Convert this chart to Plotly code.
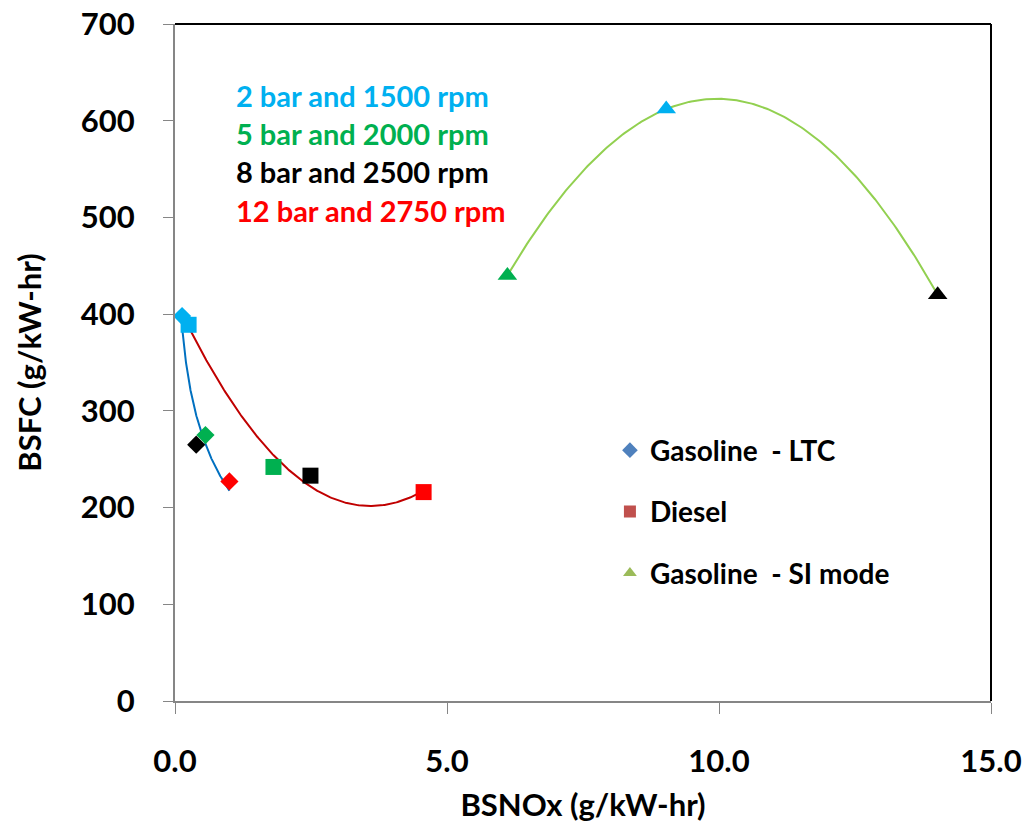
import numpy as np
import plotly.graph_objects as go

# Operating points: 2 bar/1500 rpm, 5 bar/2000 rpm, 8 bar/2500 rpm, 12 bar/2750 rpm
point_colors = ["#00B0F0", "#00B050", "#000000", "#FF0000"]
condition_labels = ["2 bar and 1500 rpm", "5 bar and 2000 rpm",
                    "8 bar and 2500 rpm", "12 bar and 2750 rpm"]

# Gasoline - LTC
ltc_nox = [0.13, 0.56, 0.39, 1.00]
ltc_bsfc = [398, 275, 265, 227]

# Diesel
diesel_nox = [0.25, 1.81, 2.49, 4.57]
diesel_bsfc = [389, 242, 233, 216]

# Gasoline - SI mode (no 12 bar point)
si_nox = [9.03, 6.11, 14.02]
si_bsfc = [612, 440, 420]
si_colors = ["#00B0F0", "#00B050", "#000000"]

series_names = ["Gasoline  - LTC", "Diesel", "Gasoline  - SI mode"]
series_colors = ["#4F81BD", "#C0504D", "#9BBB59"]
trend_colors = ["#0070C0", "#C00000", "#92D050"]

FONT = "Lato"


def log_trend(x, y, n=200):
    # y = a*ln(x) + b
    a, b = np.polyfit(np.log(x), y, 1)
    xs = np.linspace(min(x), max(x), n)
    return xs, a * np.log(xs) + b


def poly2_trend(x, y, n=200):
    coef = np.polyfit(x, y, 2)
    xs = np.linspace(min(x), max(x), n)
    return xs, np.polyval(coef, xs)


fig = go.Figure()

series = [
    (ltc_nox, ltc_bsfc, point_colors, "diamond", 14, log_trend),
    (diesel_nox, diesel_bsfc, point_colors, "square", 16, poly2_trend),
    (si_nox, si_bsfc, si_colors, "triangle-up", 17, poly2_trend),
]

# trend lines
for (x, y, _, _, _, trend), tc in zip(series, trend_colors):
    xs, ys = trend(x, y)
    fig.add_trace(go.Scatter(x=xs, y=ys, mode="lines",
                             line=dict(color=tc, width=2),
                             showlegend=False, hoverinfo="skip"))

# measured points, coloured by operating condition
for x, y, cols, sym, sz, _ in series:
    fig.add_trace(go.Scatter(x=x, y=y, mode="markers",
                             marker=dict(symbol=sym, size=sz, color=cols,
                                         line=dict(width=0)),
                             showlegend=False))

# legend entries in the series colours
legend_sizes = [14, 15, 15]
for i, (name, col, s, lsz) in enumerate(zip(series_names, series_colors, series, legend_sizes)):
    fig.add_trace(go.Scatter(x=[None], y=[None], mode="markers", name=name,
                             legendgroup=f"g{i}",
                             marker=dict(symbol=s[3], size=lsz, color=col)))

# operating-condition labels
for i, (lab, col) in enumerate(zip(condition_labels, point_colors)):
    fig.add_annotation(xref="paper", yref="paper", x=0.072, y=0.895 - i * 0.0567,
                       xanchor="left", yanchor="middle", showarrow=False,
                       text=lab, font=dict(family=FONT, size=29, color=col,
                                           weight="bold"))

axis_font = dict(family=FONT, size=31, color="#000000", weight="bold")

fig.update_xaxes(range=[0, 15], dtick=5, tickformat=".1f",
                 showgrid=False, zeroline=False, automargin=False,
                 showline=True, linecolor="#868686", linewidth=2,
                 ticks="outside", ticklen=11, tickcolor="#868686", tickwidth=1,
                 ticklabelstandoff=21, tickfont=axis_font,
                 title=dict(text="BSNOx (g/kW-hr)", font=axis_font, standoff=16))
fig.update_yaxes(range=[0, 700], dtick=100,
                 showgrid=False, zeroline=False, automargin=False,
                 showline=True, linecolor="#868686", linewidth=2,
                 ticks="outside", ticklen=10, tickcolor="#868686", tickwidth=1,
                 ticklabelstandoff=22, tickfont=axis_font,
                 title=dict(text="BSFC (g/kW-hr)", font=axis_font, standoff=30))

# black frame on the top and right sides
fig.add_shape(type="line", xref="paper", yref="paper", x0=0, x1=1, y0=1, y1=1,
              line=dict(color="#000000", width=2))
fig.add_shape(type="line", xref="paper", yref="paper", x0=1, x1=1, y0=0, y1=1,
              line=dict(color="#000000", width=2))

fig.update_layout(
    width=1026, height=826,
    margin=dict(l=175, r=35, t=24, b=125),
    paper_bgcolor="white", plot_bgcolor="white",
    font=dict(family=FONT),
    legend=dict(x=0.533, y=0.407, xanchor="left", yanchor="top",
                font=dict(family=FONT, size=28, color="#000000", weight="bold"),
                bgcolor="rgba(0,0,0,0)", tracegroupgap=22,
                itemsizing="constant"),
)

fig.write_html("out.html")
